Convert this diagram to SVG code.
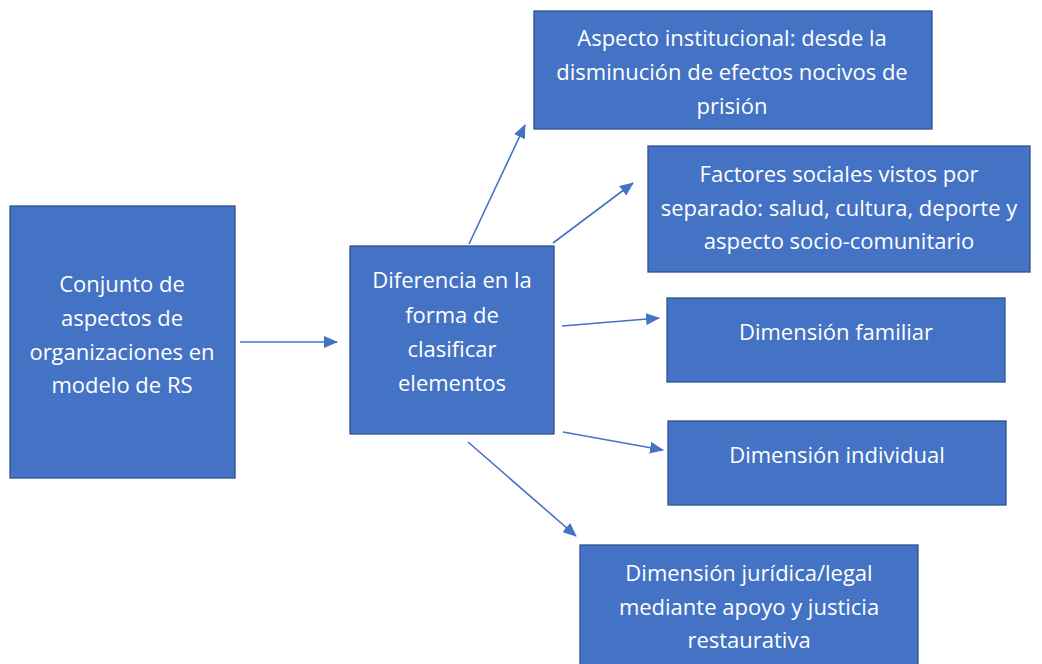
<svg xmlns="http://www.w3.org/2000/svg" width="1042" height="664" viewBox="0 0 1042 664">
<style>
.box{fill:#4472C4;stroke:#2F528F;stroke-width:1.3}
.t{font-family:"Open Sans","Liberation Sans",sans-serif;font-size:22px;fill:#fff;text-anchor:middle;dominant-baseline:central}
.c{stroke:#4472C4;stroke-width:1.6;fill:none;marker-end:url(#ah)}
</style>
<defs>
<marker id="ah" viewBox="0 0 14 12" refX="13" refY="6" markerWidth="14" markerHeight="12" markerUnits="userSpaceOnUse" orient="auto">
<path d="M0,0 L14,6 L0,12 z" fill="#4472C4"/>
</marker>
</defs>
<rect width="1042" height="664" fill="#fff"/>
<g id="connectors">
<line class="c" x1="240" y1="342" x2="337" y2="342"/>
<line class="c" x1="469" y1="244" x2="525" y2="125"/>
<line class="c" x1="553" y1="243" x2="633" y2="183"/>
<line class="c" x1="562" y1="326" x2="659" y2="318"/>
<line class="c" x1="563" y1="432" x2="663" y2="450"/>
<line class="c" x1="468" y1="442" x2="576" y2="536"/>
</g>
<g id="n1"><rect class="box" x="10" y="206" width="225" height="272"/>
<text class="t" x="122" y="283">Conjunto de</text><text class="t" x="122" y="317">aspectos de</text><text class="t" x="122" y="351">organizaciones en</text><text class="t" x="122" y="384">modelo de RS</text></g>
<g id="n2"><rect class="box" x="350" y="246" width="204" height="188"/>
<text class="t" x="452" y="279">Diferencia en la</text><text class="t" x="452" y="314">forma de</text><text class="t" x="452" y="348">clasificar</text><text class="t" x="452" y="382">elementos</text></g>
<g id="n3"><rect class="box" x="534" y="11" width="398" height="118"/>
<text class="t" x="732" y="37">Aspecto institucional: desde la</text><text class="t" x="732" y="71">disminución de efectos nocivos de</text><text class="t" x="732" y="105">prisión</text></g>
<g id="n4"><rect class="box" x="648" y="146" width="382" height="126"/>
<text class="t" x="839" y="173">Factores sociales vistos por</text><text class="t" x="839" y="207">separado: salud, cultura, deporte y</text><text class="t" x="839" y="240">aspecto socio-comunitario</text></g>
<g id="n5"><rect class="box" x="667" y="298" width="338" height="84"/>
<text class="t" x="836" y="331">Dimensión familiar</text></g>
<g id="n6"><rect class="box" x="668" y="421" width="338" height="84"/>
<text class="t" x="837" y="454">Dimensión individual</text></g>
<g id="n7"><rect class="box" x="580" y="545" width="338" height="125"/>
<text class="t" x="749" y="572">Dimensión jurídica/legal</text><text class="t" x="749" y="606">mediante apoyo y justicia</text><text class="t" x="749" y="639">restaurativa</text></g>
</svg>
